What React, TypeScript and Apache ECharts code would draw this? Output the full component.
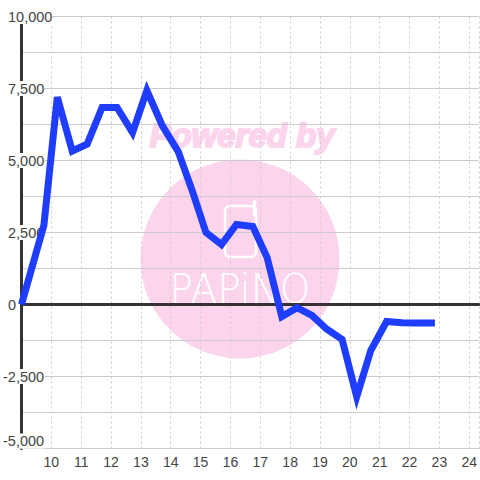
import React, { useEffect, useRef } from "react";
import * as echarts from "echarts";

const hours = [9, 9.75, 10.2, 10.7, 11.2, 11.7, 12.2, 12.72, 13.2, 13.72, 14.25, 14.73, 15.18, 15.7, 16.2, 16.75, 17.23, 17.72, 18.23, 18.73, 19.23, 19.74, 20.23, 20.7, 21.23, 21.75, 22.25, 22.85];
const values = [0, 2750, 7200, 5330, 5570, 6840, 6840, 5970, 7430, 6200, 5310, 3920, 2500, 2080, 2780, 2710, 1630, -420, -110, -380, -860, -1210, -3200, -1600, -590, -630, -640, -640];
const yTickStep = 2500;
const yMin = -5000;
const yMax = 10000;
const xMin = 9;
const xMax = 24.32;

function fmt(v: number) {
  return v.toLocaleString("en-US");
}

export default function App() {
  const ref = useRef<HTMLDivElement>(null);
  useEffect(() => {
    const chart = echarts.init(ref.current!, null, { renderer: "svg" });
    const labelBase = {
      fontFamily: "Liberation Sans",
      fontSize: 14.5,
      color: "#444",
      backgroundColor: "#fff",
      align: "left" as const,
      verticalAlignMinLabel: "bottom",
    };
    chart.setOption({
      animation: false,
      backgroundColor: "#fff",
      grid: { left: 20, right: 0, top: 16.5, bottom: 31.5, containLabel: false },
      xAxis: [
        {
          type: "value",
          min: xMin,
          max: xMax,
          interval: 1,
          axisLine: { onZero: false, show: true, lineStyle: { color: "#ccc", width: 1 } },
          axisTick: { show: false },
          splitLine: { show: true, lineStyle: { color: "#ccc", type: [2, 3], width: 1 } },
          axisLabel: {
            fontFamily: "Liberation Sans",
            fontSize: 14,
            color: "#444",
            margin: 6,
            showMinLabel: false,
            showMaxLabel: false,
            formatter: (v: number) => (v >= 10 ? String(v) : ""),
          },
        },
        {
          type: "value",
          min: xMin,
          max: xMax,
          axisLine: { onZero: true, show: true, lineStyle: { color: "#333", width: 3 } },
          axisTick: { show: false },
          splitLine: { show: false },
          axisLabel: { show: false },
        },
      ],
      yAxis: [
        {
          type: "value",
          min: yMin,
          max: yMax,
          interval: yTickStep,
          axisLine: { show: true, onZero: false, lineStyle: { color: "#333", width: 3 } },
          axisTick: { show: false },
          splitLine: { show: true, lineStyle: { color: "#ccc", width: 1 } },
          minorTick: { show: false, splitNumber: 2 },
          minorSplitLine: { show: true, lineStyle: { color: "#ccc", width: 1 } },
          axisLabel: {
            ...labelBase,
            margin: 13.5,
            formatter: (v: number) => (v >= 0 ? fmt(v) : ""),
          },
        },
        {
          type: "value",
          position: "left",
          min: yMin,
          max: yMax,
          interval: yTickStep,
          axisLine: { show: false, onZero: false },
          axisTick: { show: false },
          splitLine: { show: false },
          axisLabel: {
            ...labelBase,
            margin: 18.5,
            formatter: (v: number) => (v < 0 ? fmt(v) : ""),
          },
        },
      ],
      graphic: [
        { type: "circle", z: -10, shape: { cx: 240, cy: 259, r: 99.5 }, style: { fill: "#fcd5ec" } },
        {
          type: "text", z: -10, x: 242, y: 135,
          style: {
            text: "Powered by", fill: "#fcd5ec", font: "italic bold 33px 'Liberation Sans'",
            align: "center", verticalAlign: "middle", stroke: "#fcd5ec", lineWidth: 2,
          },
        },
        {
          type: "text", z: -9, x: 240, y: 289, scaleX: 0.95,
          style: {
            text: "PAPiNO", fill: "#fff", font: "200 41px 'DejaVu Sans'",
            align: "center", verticalAlign: "middle",
          },
        },
        { type: "rect", z: -9, shape: { x: 225, y: 206, width: 31, height: 51, r: 5 }, style: { fill: "none", stroke: "#fff", lineWidth: 2.5 } },
        { type: "line", z: -9, shape: { x1: 254.5, y1: 202, x2: 254.5, y2: 215 }, style: { stroke: "#fff", lineWidth: 3.5, lineCap: "round" } },
      ],
      series: [
        {
          type: "line",
          xAxisIndex: 0,
          yAxisIndex: 0,
          data: hours.map((h, i) => [h, values[i]]),
          showSymbol: false,
          symbol: "none",
          smooth: false,
          z: 5,
          clip: false,
          lineStyle: { color: "#1f3dff", width: 7, join: "miter", cap: "butt" },
        },
      ],
    });
    return () => chart.dispose();
  }, []);
  return (
    <div
      ref={ref}
      style={{ position: "fixed", left: 0, top: 0, width: 480, height: 480 }}
    />
  );
}
